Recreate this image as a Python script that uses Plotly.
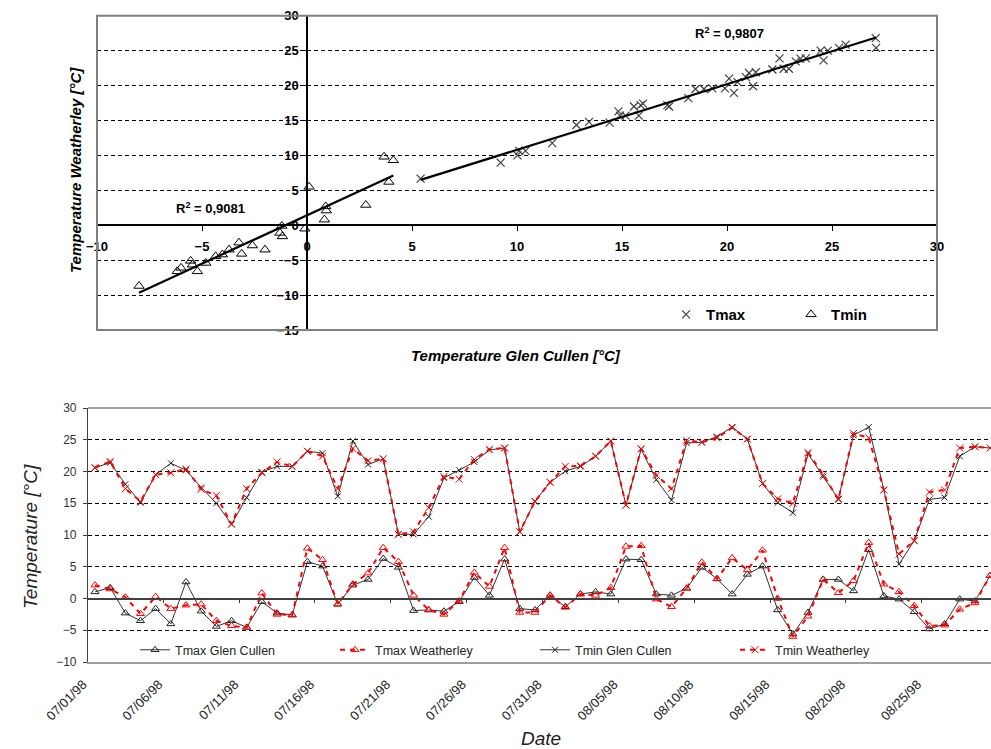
import numpy as np
import pandas as pd
import plotly.graph_objects as go

# ---------------- Top scatter data (Glen Cullen vs Weatherley) ----------------
tmax_glen = [5.41, 9.22, 10.02, 10.1, 10.4, 11.68, 12.83, 13.43, 14.41, 14.83,
             14.9, 15.17, 15.57, 15.8, 15.89, 16.0, 17.16, 17.24, 18.16, 18.5,
             18.9, 19.3, 19.9, 20.1, 20.33, 20.5, 20.9, 21.05, 21.24, 21.37,
             22.16, 22.5, 22.7, 22.95, 23.27, 23.5, 23.75, 24.46, 24.6, 24.8,
             25.33, 25.65, 27.08, 27.1]
tmax_weath = [6.67, 8.97, 10.0, 10.65, 10.65, 11.76, 14.35, 14.8, 14.7, 16.3,
              15.7, 15.7, 17.0, 15.7, 17.2, 17.4, 17.2, 17.0, 18.2, 19.5,
              19.5, 19.6, 19.6, 21.0, 18.95, 20.5, 21.2, 21.8, 19.9, 21.9,
              22.3, 23.9, 22.4, 22.4, 23.45, 23.85, 23.9, 25.0, 23.6, 25.0,
              25.4, 25.85, 26.8, 25.4]
tmin_glen = [-8.0, -6.18, -6.0, -5.54, -5.46, -5.22, -4.82, -4.35, -4.03, -3.71,
             -3.24, -3.11, -2.6, -2.0, -1.29, -1.17, -1.2, -0.1, 0.1, 0.89,
             0.92, 0.83, 2.8, 3.67, 4.11, 3.9]
tmin_weath = [-8.7, -6.6, -6.1, -5.1, -5.65, -6.6, -5.4, -4.45, -4.2, -3.5,
              -2.5, -4.1, -2.9, -3.5, -1.1, -1.6, -0.1, -0.5, 5.5, 2.7,
              2.1, 0.8, 2.9, 9.8, 9.3, 6.2]
r2_tmax = "0,9807"
r2_tmin = "0,9081"
top_xticks = [-10, -5, 0, 5, 10, 15, 20, 25, 30]
top_yticks = [-15, -10, -5, 0, 5, 10, 15, 20, 25, 30]

# ---------------- Bottom time series ----------------
dates = pd.date_range("1998-07-01", "1998-08-29", freq="D")
# lower series (triangles)
tmax_glen_cullen = [1.05, 1.7, -2.3, -3.5, -1.6, -4.0, 2.6, -2.0, -4.4, -3.5,
                    -4.55, -0.5, -2.3, -2.6, 5.8, 5.1, -0.9, 2.1, 3.0, 6.3,
                    4.9, -1.9, -1.8, -2.0, -0.5, 3.3, 0.5, 6.2, -1.6, -1.8,
                    0.5, -1.3, 0.7, 1.05, 0.7, 6.2, 6.1, 0.7, 0.5, 1.6,
                    4.9, 3.1, 0.7, 3.8, 5.1, -1.8, -5.6, -2.2, 3.0, 3.0,
                    1.2, 7.7, 0.4, -0.1, -2.1, -4.8, -4.0, -0.1, -0.4, 3.6]
tmax_weatherley = [2.1, 1.5, 0.2, -2.4, 0.3, -1.6, -1.05, -0.9, -3.5, -4.3,
                   -4.55, 0.85, -2.5, -2.6, 7.9, 6.1, -0.9, 2.25, 4.0, 8.0,
                   5.8, 0.5, -1.8, -2.5, -0.4, 4.1, 1.9, 8.0, -2.2, -2.2,
                   0.5, -1.4, 0.7, 0.5, 1.7, 8.2, 8.3, -0.1, -1.3, 1.6,
                   5.7, 3.1, 6.4, 4.5, 7.6, 0.0, -6.0, -2.8, 3.0, 0.9,
                   2.8, 8.8, 2.25, 1.05, -1.15, -4.3, -4.2, -1.7, -0.7, 3.6]
# upper series (crosses)
tmin_glen_cullen = [20.6, 21.4, 18.0, 15.1, 19.5, 21.3, 20.2, 17.5, 15.0, 11.7,
                    15.9, 19.9, 20.8, 20.8, 23.2, 22.9, 16.1, 24.8, 21.1, 22.0,
                    10.1, 10.1, 12.9, 19.0, 20.2, 21.5, 23.4, 23.7, 10.5, 15.3,
                    18.3, 20.05, 20.8, 22.4, 24.8, 14.7, 23.5, 18.7, 15.5, 24.5,
                    24.6, 25.5, 27.0, 25.1, 18.1, 15.1, 13.5, 22.8, 19.2, 15.7,
                    25.7, 27.0, 17.1, 5.4, 9.1, 15.6, 15.9, 22.4, 23.9, 23.7]
tmin_weatherley = [20.6, 21.6, 17.3, 15.3, 19.5, 19.8, 20.4, 17.2, 16.2, 11.7,
                   17.3, 19.8, 21.5, 20.8, 23.2, 22.4, 17.3, 23.6, 21.7, 22.0,
                   10.1, 10.5, 14.3, 19.2, 18.8, 21.9, 23.5, 23.7, 10.5, 15.3,
                   18.3, 20.8, 20.9, 22.4, 24.8, 14.7, 23.6, 19.4, 17.3, 24.9,
                   24.6, 25.3, 26.9, 25.1, 18.1, 15.7, 15.0, 23.0, 19.5, 15.6,
                   26.0, 25.3, 17.1, 7.0, 9.1, 16.75, 17.1, 23.7, 23.9, 23.7]
bottom_yticks = [-10, -5, 0, 5, 10, 15, 20, 25, 30]

FONT = "Arial, 'Liberation Sans', sans-serif"

# ---------------- geometry ----------------
top_xr, top_yr = [-10, 30], [-15, 30]
top_xd = [97 / 991, 937 / 991]
top_yd = [1 - 330 / 749, 1 - 15.7 / 749]
bot_xd = [88 / 991, 1.0]
bot_yd = [1 - 662 / 749, 1 - 408 / 749]
bot_yr = [-10, 30]


def frac(v, r, d):
    return d[0] + (v - r[0]) / (r[1] - r[0]) * (d[1] - d[0])


pos_top_y = frac(0, top_xr, top_xd)
pos_top_x = frac(0, top_yr, top_yd)
pos_bot_zero = frac(0, bot_yr, bot_yd)

day = pd.Timedelta(days=1)
bot_range = [dates[0] - 0.46 * day, dates[0] + 59.06 * day]

fig = go.Figure()

# ---- top chart ----
fig.add_trace(go.Scatter(
    x=tmax_glen, y=tmax_weath, mode="markers", name="Tmax",
    marker=dict(symbol="x-thin", size=8, color="#404040",
                line=dict(width=1.2, color="#404040")),
    xaxis="x", yaxis="y", legend="legend2"))
fig.add_trace(go.Scatter(
    x=tmin_glen, y=tmin_weath, mode="markers", name="Tmin",
    marker=dict(symbol="triangle-up-open", size=9, color="black",
                line=dict(width=1, color="black")),
    xaxis="x", yaxis="y", legend="legend2"))


def trend(xs, ys):
    xs = np.asarray(xs, float)
    ys = np.asarray(ys, float)
    m, b = np.polyfit(xs, ys, 1)
    xl = np.array([xs.min(), xs.max()])
    return xl, m * xl + b


for xs, ys in [(tmax_glen, tmax_weath), (tmin_glen, tmin_weath)]:
    xl, yl = trend(xs, ys)
    fig.add_trace(go.Scatter(x=xl, y=yl, mode="lines", showlegend=False,
                             line=dict(color="black", width=2.2),
                             xaxis="x", yaxis="y", hoverinfo="skip"))

# ---- bottom chart ----
fig.add_trace(go.Scatter(
    x=dates, y=tmax_glen_cullen, name="Tmax Glen Cullen", mode="lines+markers",
    line=dict(color="#333333", width=1),
    marker=dict(symbol="triangle-up-open", size=7, color="#222222",
                line=dict(width=1)),
    xaxis="x3", yaxis="y3", legend="legend"))
fig.add_trace(go.Scatter(
    x=dates, y=tmax_weatherley, name="Tmax Weatherley", mode="lines+markers",
    line=dict(color="#ff0000", width=2, dash="5px,5px"),
    marker=dict(symbol="triangle-up-open", size=7, color="#ff0000",
                line=dict(width=1)),
    xaxis="x3", yaxis="y3", legend="legend"))
fig.add_trace(go.Scatter(
    x=dates, y=tmin_glen_cullen, name="Tmin Glen Cullen", mode="lines+markers",
    line=dict(color="#333333", width=1),
    marker=dict(symbol="x-thin", size=6, color="#222222",
                line=dict(width=1, color="#222222")),
    xaxis="x3", yaxis="y3", legend="legend"))
fig.add_trace(go.Scatter(
    x=dates, y=tmin_weatherley, name="Tmin Weatherley", mode="lines+markers",
    line=dict(color="#ff0000", width=2, dash="5px,5px"),
    marker=dict(symbol="x-thin", size=7, color="#ff0000",
                line=dict(width=1, color="#ff0000")),
    xaxis="x3", yaxis="y3", legend="legend"))
# invisible helper trace for the zero-line axis
fig.add_trace(go.Scatter(x=[dates[0]], y=[-100], mode="markers",
                         marker=dict(opacity=0), showlegend=False,
                         hoverinfo="skip", xaxis="x4", yaxis="y3"))

half_ticks = [dates[0] + (4.5 + 5 * k) * day for k in range(12)]

bold13 = dict(family=FONT, size=13, color="black", weight="bold")
grid = dict(showgrid=True, gridcolor="black", gridwidth=1, griddash="4px,3px")


def ann(text, x, y, size, angle=0, **fkw):
    return dict(text=text, xref="paper", yref="paper", x=x / 991,
                y=1 - y / 749, xanchor="center", yanchor="middle",
                textangle=angle, showarrow=False,
                font=dict(family=FONT, size=size, **fkw))


fig.update_layout(
    width=991, height=749,
    margin=dict(l=0, r=0, t=0, b=0),
    paper_bgcolor="white", plot_bgcolor="white",
    font=dict(family=FONT, color="black"),
    showlegend=True,
    xaxis=dict(domain=top_xd, range=top_xr, anchor="free", position=pos_top_x,
               showline=True, linecolor="black", linewidth=1.5,
               ticks="outside", ticklen=5, tickcolor="black",
               tickmode="array", tickvals=top_xticks, tickfont=bold13,
               ticklabelstandoff=4,
               showgrid=False, zeroline=False, automargin=False),
    yaxis=dict(domain=top_yd, range=top_yr, anchor="free", position=pos_top_y,
               showline=True, linecolor="black", linewidth=1.5,
               ticks="outside", ticklen=5, tickcolor="black",
               tickmode="array", tickvals=top_yticks, tickfont=bold13,
               zeroline=False, automargin=False, **grid),
    xaxis3=dict(domain=bot_xd, range=bot_range, anchor="y3", type="date",
                showline=True, linecolor="#a0a0a0", linewidth=1.5,
                ticks="", tickmode="array", tickvals=list(dates[::5]),
                tickformat="%m/%d/%y", tickangle=-45,
                ticklabelshift=-12, ticklabelstandoff=8,
                tickfont=dict(family=FONT, size=13, color="#222222"),
                showgrid=False, zeroline=False, automargin=False),
    xaxis4=dict(overlaying="x3", range=bot_range, anchor="free",
                position=pos_bot_zero, type="date",
                showline=True, linecolor="#404040", linewidth=1.5,
                ticks="outside", ticklen=4, tickcolor="#404040",
                tickmode="array", tickvals=half_ticks, showticklabels=False,
                showgrid=False, zeroline=False, automargin=False),
    yaxis3=dict(domain=bot_yd, range=bot_yr, anchor="x3",
                showline=True, linecolor="#404040", linewidth=1.2,
                ticks="outside", ticklen=4, tickcolor="#404040",
                tickmode="array", tickvals=bottom_yticks,
                ticklabelstandoff=4,
                tickfont=dict(family=FONT, size=12, color="#333333"),
                zeroline=False, automargin=False, **grid),
    legend=dict(orientation="h", x=135 / 991, y=0.152, xanchor="left",
                yanchor="top", bgcolor="rgba(0,0,0,0)",
                font=dict(family=FONT, size=12.5, color="#222222"),
                entrywidth=155, entrywidthmode="pixels", itemwidth=30),
    legend2=dict(orientation="h", x=666 / 991, y=0.602, xanchor="left",
                 yanchor="top", bgcolor="rgba(0,0,0,0)",
                 font=dict(family=FONT, size=15, color="black", weight="bold"),
                 entrywidth=80, entrywidthmode="pixels", itemwidth=30),
    shapes=[
        dict(type="rect", xref="paper", yref="paper",
             x0=top_xd[0], x1=top_xd[1], y0=top_yd[0], y1=top_yd[1],
             line=dict(color="#808080", width=2)),
        dict(type="line", xref="paper", yref="paper",
             x0=bot_xd[0], x1=bot_xd[1], y0=bot_yd[1], y1=bot_yd[1],
             line=dict(color="#a0a0a0", width=2)),
    ],
    annotations=[
        ann("Temperature Weatherley [°C]", 75, 170, 15, -90,
            color="black", weight="bold", style="italic"),
        ann("Temperature Glen Cullen [°C]", 516, 355, 15,
            color="black", weight="bold", style="italic"),
        ann("R<sup>2</sup> = " + r2_tmax, 729, 33, 13,
            color="black", weight="bold"),
        ann("R<sup>2</sup> = " + r2_tmin, 210, 208, 13,
            color="black", weight="bold"),
        ann("Temperature [°C]", 30, 537, 19, -90,
            color="#222222", style="italic"),
        ann("Date", 541, 738, 19, color="#222222", style="italic"),
    ],
)

fig.write_html("out.html")
